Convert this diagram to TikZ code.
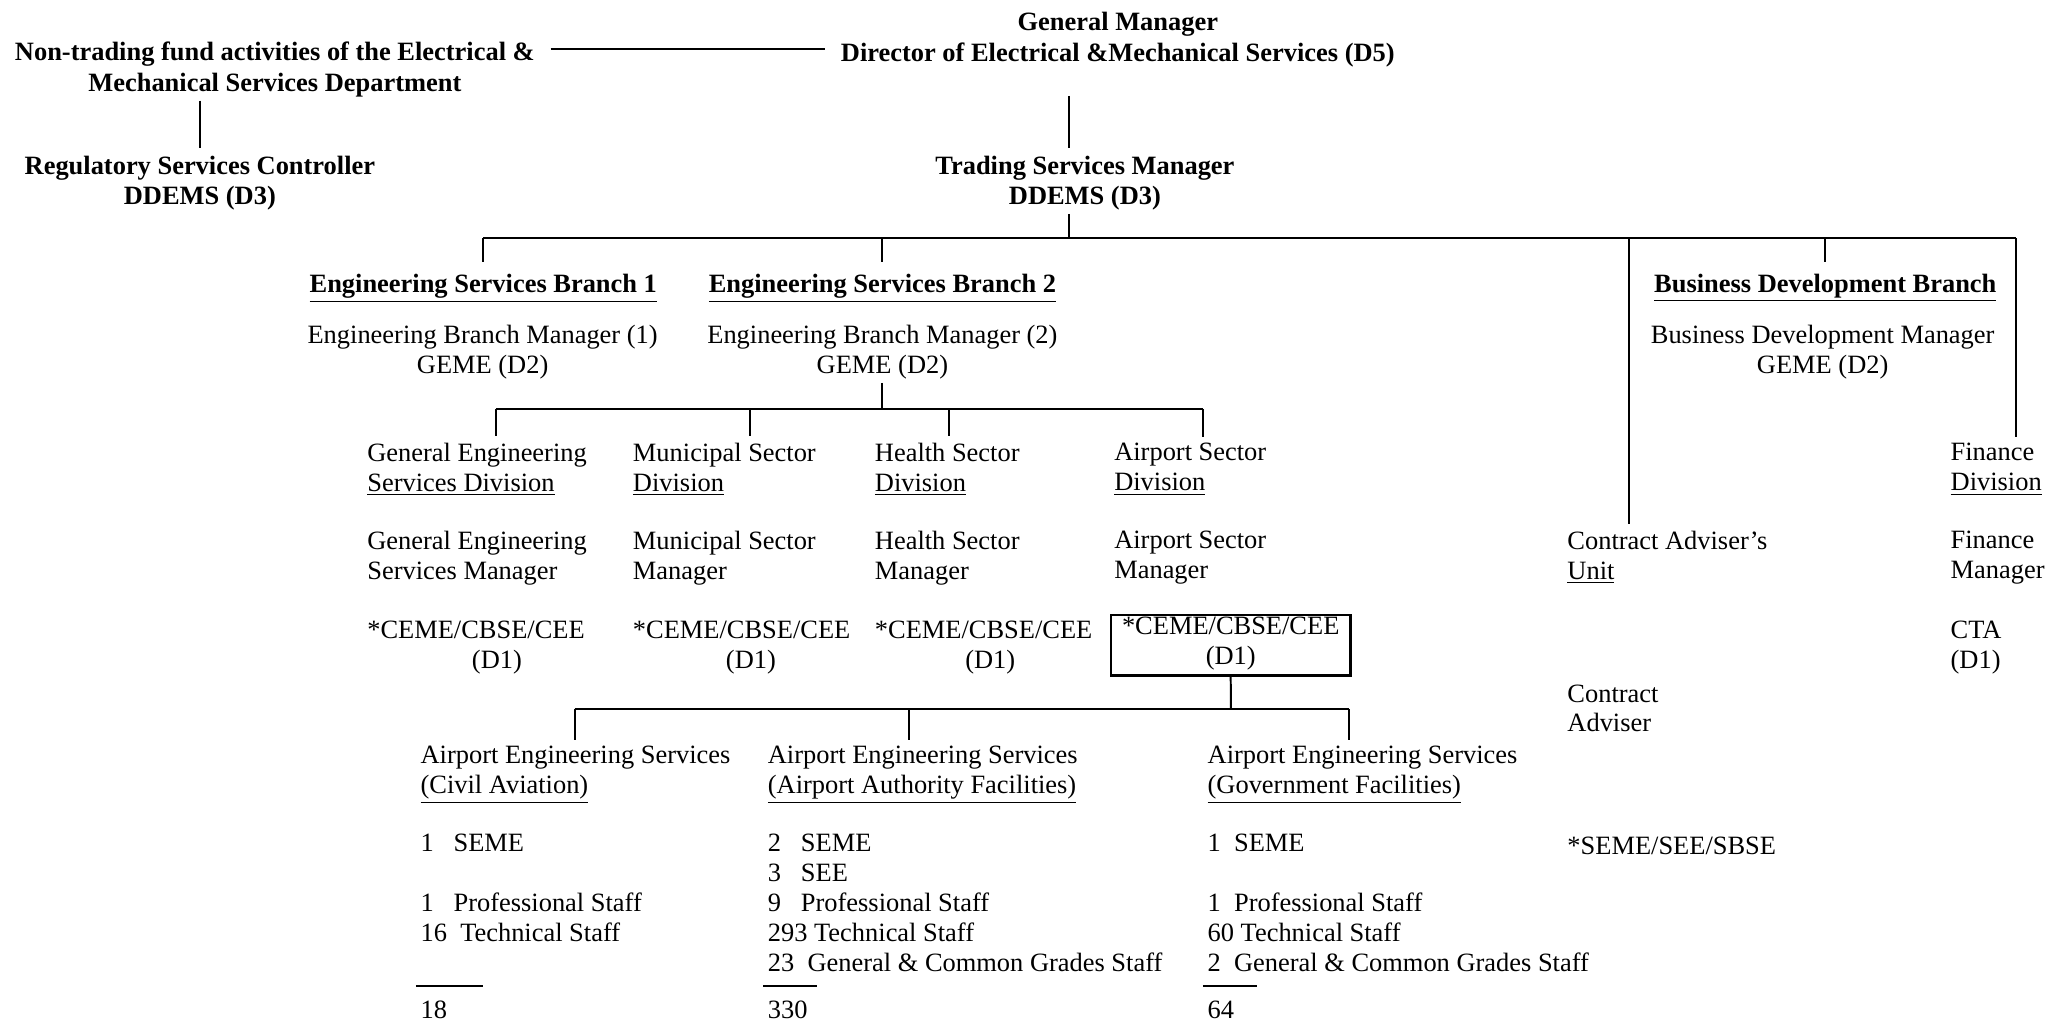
\documentclass[tikz,border=0pt]{standalone}
\usepackage{fontspec}
\setmainfont{Liberation Serif}
\usetikzlibrary{positioning}

\begin{document}
\begin{tikzpicture}[x=0.597pt, y=-0.597pt,
    every node/.style={inner sep=0pt, font=\fontsize{12}{13.6}\selectfont,
      execute at begin node=\strut, execute at end node=\strut},
    hd/.style={font=\fontsize{12}{13.6}\selectfont\bfseries, align=center},
    lt/.style={align=left, anchor=west},
    ct/.style={align=center},
    ln/.style={line width=0.9pt}]
  \useasboundingbox (0,0) rectangle (1568,776);

  \node[hd] (gm1) at (850,18.5) {General Manager};
  \node[hd, below=0pt of gm1] (gm2) {Director of Electrical \&Mechanical Services (D5)};
  \node[hd] (ntf1) at (209,41.3) {Non-trading fund activities of the Electrical \&};
  \node[hd, below=0pt of ntf1] (ntf2) {Mechanical Services Department};
  \node[hd] (rsc) at (152,140.5) {Regulatory Services Controller\\DDEMS (D3)};
  \node[hd] (tsm) at (825,140.5) {Trading Services Manager\\DDEMS (D3)};

  \node[hd] (esb1) at (367.5,218) {\underline{Engineering Services Branch 1}};
  \node[ct] (ebm1) at (367,269) {Engineering Branch Manager (1)\\GEME (D2)};
  \node[hd] (esb2) at (671,218) {\underline{Engineering Services Branch 2}};
  \node[ct] (ebm2) at (671,269) {Engineering Branch Manager (2)\\GEME (D2)};
  \node[hd] (bdb) at (1388,218) {\underline{Business Development Branch}};
  \node[ct] (bdm) at (1386,269) {Business Development Manager\\GEME (D2)};

  \node[lt] (ges) at (279,358.5) {General Engineering\\\underline{Services Division}};
  \node[lt] (mun) at (481,358.5) {Municipal Sector\\\underline{Division}};
  \node[lt] (hea) at (665,358.5) {Health Sector\\\underline{Division}};
  \node[lt] (air) at (847,358.5) {Airport Sector\\\underline{Division}};
  \node[lt] (fin) at (1483,358.5) {Finance\\\underline{Division}};

  \node[lt] (gesm) at (279,425.5) {General Engineering\\Services Manager};
  \node[lt] (munm) at (481,425.5) {Municipal Sector\\Manager};
  \node[lt] (heam) at (665,425.5) {Health Sector\\Manager};
  \node[lt] (airm) at (847,425.5) {Airport Sector\\Manager};
  \node[lt] (finm) at (1483,425.5) {Finance\\Manager};
  \node[lt] (cau) at (1191.6,425.5) {Contract Adviser’s\\\underline{Unit}};

  \node[ct, anchor=west] (gesg) at (279,493.5) {*CEME/CBSE/CEE\\\hspace*{19pt}(D1)};
  \node[ct, anchor=west] (mung) at (481,493.5) {*CEME/CBSE/CEE\\\hspace*{8.4pt}(D1)};
  \node[ct, anchor=west] (heag) at (665,493.5) {*CEME/CBSE/CEE\\\hspace*{6pt}(D1)};
  \node[ct, anchor=west, draw, line width=1pt, inner xsep=5pt, inner ysep=1pt] (airg) at (844,490.5) {*CEME/CBSE/CEE\\(D1)};
  \node[lt] (cta) at (1483,493.5) {CTA\\(D1)};
  \node[lt] (cad) at (1191.6,542) {Contract\\Adviser};
  \node[lt] (sss) at (1191.6,645) {*SEME/SEE/SBSE};

  \node[lt] (aesa) at (319.5,589.5) {Airport Engineering Services\\\underline{(Civil Aviation)}};
  \node[lt] (aesb) at (583.6,589.5) {Airport Engineering Services\\\underline{(Airport Authority Facilities)}};
  \node[lt] (aesc) at (918,589.5) {Airport Engineering Services\\\underline{(Government Facilities)}};

  \node[lt] (stfa) at (319.5,678.2) {1\ \ \ SEME\\[13.6pt]1\ \ \ Professional Staff\\16\ \ Technical Staff};
  \node[lt] (stfb) at (583.6,689.6) {2\ \ \ SEME\\3\ \ \ SEE\\9\ \ \ Professional Staff\\293 Technical Staff\\23\ \ General \& Common Grades Staff};
  \node[lt] (stfc) at (918,689.6) {1\ \ SEME\\[13.6pt]1\ \ Professional Staff\\60 Technical Staff\\2\ \ General \& Common Grades Staff};

  \node[lt] (tota) at (319.5,770) {18};
  \node[lt] (totb) at (583.6,770) {330};
  \node[lt] (totc) at (918,770) {64};
  \draw[ln] ([xshift=-2pt,yshift=5pt]tota.north west) -- ++(51,0);
  \draw[ln] ([xshift=-2pt,yshift=5pt]totb.north west) -- ++(41,0);
  \draw[ln] ([xshift=-2pt,yshift=5pt]totc.north west) -- ++(41.5,0);

  \coordinate (b0) at (813,181);
  \coordinate (bca) at (1239,181);
  \coordinate (bfin) at (1533,181);
  \coordinate (b2) at (671,311);
  \coordinate (d1) at (377,311);
  \coordinate (d2) at (570,311);
  \coordinate (d3) at (722,311);
  \coordinate (d4) at (915,311);
  \coordinate (b3) at (936,539);
  \coordinate (e1) at (437,539);
  \coordinate (e2) at (691,539);
  \coordinate (e3) at (1026,539);

  \draw[ln, shorten <=7pt, shorten >=7pt] ([yshift=2.4pt]ntf1.east) -- ([yshift=2.4pt]ntf1.east -| gm2.west);
  \draw[ln, shorten >=3.4pt] (ntf2.south -| rsc.north) -- (rsc.north);
  \draw[ln, shorten <=11.5pt, shorten >=3.4pt] (gm2.south -| b0) -- (tsm.north -| b0);
  \draw[ln] (tsm.south -| b0) -- (b0);
  \draw[ln] (b0 -| esb1) -- (bfin);
  \draw[ln, shorten >=2.8pt] (bfin) -- (bfin |- fin.north);
  \draw[ln, shorten >=4pt] (b0 -| esb1) -- (esb1.north);
  \draw[ln, shorten >=4pt] (b0 -| esb2) -- (esb2.north);
  \draw[ln, shorten >=4pt] (b0 -| bdb) -- (bdb.north);
  \draw[ln, shorten >=2.8pt] (bca) -- (bca |- cau.north);
  \draw[ln] (ebm2.south) -- (b2);
  \draw[ln] (d1) -- (d4);
  \foreach \c/\n in {d1/ges, d2/mun, d3/hea, d4/air}
    \draw[ln, shorten >=2.8pt] (\c) -- (\c |- \n.north);
  \draw[ln] (airg.south) -- (b3);
  \draw[ln] (e1) -- (e3);
  \foreach \c/\n in {e1/aesa, e2/aesb, e3/aesc}
    \draw[ln, shorten >=2.8pt] (\c) -- (\c |- \n.north);
\end{tikzpicture}
\end{document}
